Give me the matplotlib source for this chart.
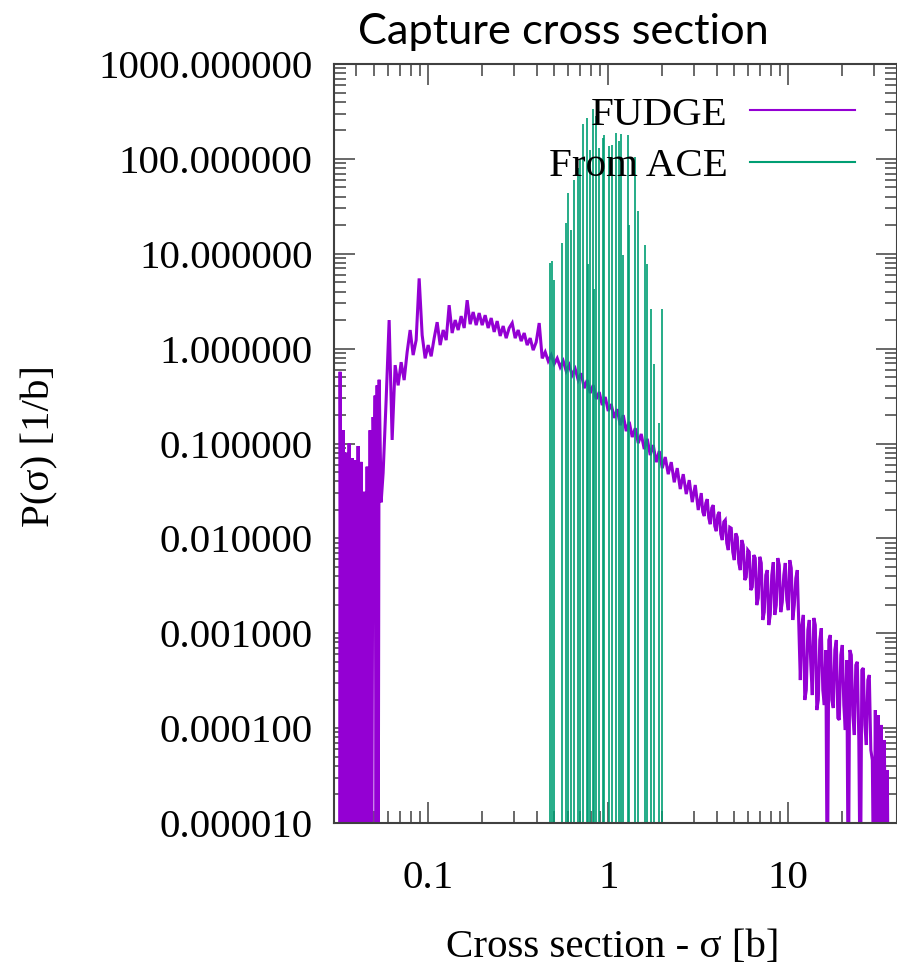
import matplotlib
matplotlib.use("Agg")
import numpy as np
import matplotlib.pyplot as plt
from matplotlib.ticker import LogLocator, NullFormatter
from matplotlib.lines import Line2D

# ---------------- data ----------------
# FUDGE histogram: sigma [b] and P(sigma) [1/b]; 1e-6 marks empty bins (below the plotted range)
fudge_sigma = [
    # low-sigma region (sparse, many empty bins)
    0.03223, 0.03244, 0.03307, 0.03371, 0.03435, 0.03502, 0.03570, 0.03639, 0.03709, 0.03781,
    0.03854, 0.03929, 0.04005, 0.04083, 0.04162, 0.04242, 0.04325, 0.04408, 0.04494, 0.04581,
    0.04670, 0.04760, 0.04853, 0.04947, 0.05012, 0.05076, 0.05141, 0.05207, 0.05275, 0.05343,
    0.05481,
    # main body
    0.05623, 0.05843, 0.06072, 0.06310, 0.06556, 0.06813, 0.07080, 0.07356, 0.07644, 0.07943,
    0.08254, 0.08577, 0.08913, 0.09261, 0.09624,
    0.1000, 0.1039, 0.1080, 0.1122, 0.1166, 0.1212, 0.1259, 0.1308, 0.1359, 0.1413,
    0.1468, 0.1525, 0.1585, 0.1647, 0.1711, 0.1778, 0.1848, 0.1920, 0.1995, 0.2073,
    0.2154, 0.2239, 0.2326, 0.2417, 0.2512, 0.2610, 0.2712, 0.2818, 0.2929, 0.3043,
    0.3162, 0.3286, 0.3415, 0.3548, 0.3687, 0.3831, 0.3981, 0.4137, 0.4299, 0.4467,
    0.4642, 0.4823, 0.5012, 0.5208, 0.5412, 0.5623, 0.5843, 0.6072, 0.6310, 0.6556,
    0.6813, 0.7080, 0.7356, 0.7644, 0.7943, 0.8254, 0.8577, 0.8913, 0.9261, 0.9624,
    1.000, 1.039, 1.080, 1.122, 1.166, 1.212, 1.259, 1.308, 1.359, 1.413,
    1.468, 1.525, 1.585, 1.647, 1.711, 1.778, 1.848, 1.920, 1.995, 2.073,
    2.154, 2.239, 2.326, 2.417, 2.512, 2.610, 2.712, 2.818, 2.929, 3.043,
    3.162,
    # noisier region up to the step near 11 b
    3.286, 3.350, 3.415, 3.481, 3.548, 3.617, 3.687, 3.758, 3.831, 3.905,
    3.981, 4.058, 4.137, 4.217, 4.299, 4.382, 4.467, 4.553, 4.642, 4.732,
    4.823, 4.917, 5.012, 5.109, 5.208, 5.309, 5.412, 5.517, 5.623, 5.732,
    5.843, 5.957, 6.072, 6.190, 6.310, 6.432, 6.556, 6.683, 6.813, 6.945,
    7.080, 7.217, 7.356, 7.499, 7.644, 7.792, 7.943, 8.097, 8.254, 8.414,
    8.577, 8.743, 8.913, 9.085, 9.261, 9.441, 9.624, 9.810, 10.00, 10.19,
    10.39, 10.59, 10.80, 11.01, 11.22,
    # tail
    11.66, 11.89, 12.12, 12.35, 12.59, 12.84, 13.08, 13.34, 13.59, 13.86,
    14.13, 14.40, 14.68, 14.96, 15.25, 15.55, 15.85, 16.16, 16.47, 16.79,
    17.11, 17.44, 17.78, 18.13, 18.48, 18.84, 19.20, 19.57, 19.95, 20.34,
    20.73, 21.13, 21.54, 21.96, 22.39, 22.82, 23.26, 23.71, 24.17, 24.64,
    25.12, 25.61, 26.10, 26.61, 27.12, 27.65, 28.18, 28.73, 29.29,
    29.85, 30.43, 31.01, 31.62, 32.23, 32.86, 33.50, 34.15, 34.81, 35.48, 35.94,
]
fudge_p = [
    1e-6, 0.57, 1e-6, 0.138, 1e-6, 0.080, 1e-6, 0.100, 1e-6, 0.070,
    1e-6, 0.067, 1e-6, 0.094, 1e-6, 0.064, 1e-6, 0.031, 1e-6, 0.057,
    1e-6, 0.138, 1e-6, 0.19, 0.025, 0.32, 1e-6, 0.41, 1e-6, 0.47,
    0.024,
    0.049, 0.287, 2.0, 0.109, 0.67, 0.41, 0.72, 0.466, 0.92, 1.57,
    0.855, 1.23, 5.5, 1.39, 0.79,
    1.09, 0.83, 1.29, 1.9, 1.09, 1.57, 1.23, 2.87, 1.46, 2.0,
    1.57, 2.2, 1.65, 3.24, 1.81, 2.43, 1.77, 2.37, 1.77, 2.25,
    1.65, 2.1, 1.5, 1.95, 1.36, 1.73, 1.29, 1.65, 1.86, 1.29,
    1.57, 1.2, 1.46, 1.09, 1.29, 0.964, 1.17, 1.86, 0.79, 0.92,
    0.74, 0.855, 0.69, 0.79, 0.64, 0.74, 0.58, 0.67, 0.526, 0.61,
    0.466, 0.55, 0.383, 0.466, 0.34, 0.412, 0.294, 0.348, 0.254, 0.309,
    0.22, 0.26, 0.186, 0.23, 0.156, 0.199, 0.135, 0.169, 0.117, 0.145,
    0.101, 0.126, 0.0873, 0.112, 0.0755, 0.0962, 0.0636, 0.0832, 0.055, 0.072,
    0.0475, 0.0636, 0.039, 0.055, 0.0331, 0.0475, 0.0293, 0.0411, 0.0241, 0.0365,
    0.0199,
    0.030, 0.019, 0.0172, 0.0235, 0.0259, 0.0164, 0.0141, 0.0209, 0.0224, 0.0135,
    0.0119, 0.0176, 0.019, 0.0111, 0.0096, 0.0149, 0.0156, 0.0089, 0.00753, 0.0131,
    0.0128, 0.00717, 0.0059, 0.0113, 0.0103, 0.0055, 0.00463, 0.0096, 0.0085, 0.00364,
    0.0039, 0.00753, 0.00717, 0.00285, 0.00307, 0.00667, 0.0062, 0.00198, 0.00235, 0.0064,
    0.0055, 0.00138, 0.00167, 0.0041, 0.00463, 0.00122, 0.00156, 0.0041, 0.0056, 0.00156,
    0.00198, 0.0062, 0.00523, 0.00167, 0.00213, 0.0041, 0.0055, 0.00224, 0.00175, 0.0059,
    0.00486, 0.00138, 0.00198, 0.0038, 0.00463,
    0.000321, 0.00122, 0.00156, 0.000198, 0.000252, 0.00108, 0.00138, 0.000462, 0.000223, 0.00145,
    0.00122, 0.000155, 0.000198, 0.000848, 0.00113, 0.000252, 0.000175, 0.000665, 1e-6, 0.000848,
    0.000957, 0.000198, 0.000163, 0.000665, 0.000848, 0.000128, 0.000122, 0.000589, 0.000751, 0.000175,
    0.0000955, 0.000522, 1e-6, 0.000665, 0.000589, 0.000137, 0.0000846, 0.000462, 0.0005, 0.000075,
    1e-6, 0.000409, 0.00043, 0.000108, 0.0000664, 0.000321, 0.000363, 0.0000588, 0.0000461,
    1e-6, 0.000155, 1e-6, 0.000137, 1e-6, 0.000108, 1e-6, 0.000075, 1e-6, 0.0000362, 1e-6,
]

# From ACE: sparse bins (sigma [b], P(sigma) [1/b])
ace_sigma = [0.4738, 0.4848, 0.5012, 0.5552, 0.5821, 0.5995, 0.6229, 0.6474, 0.6813, 0.6989,
             0.7263, 0.7586, 0.7743, 0.7943, 0.8254, 0.8360, 0.8577, 0.8913, 0.9321, 0.9502,
             1.008, 1.052, 1.108, 1.145, 1.181, 1.211, 1.292, 1.308, 1.413, 1.468,
             1.606, 1.647, 1.734, 1.801, 1.920, 1.995]
ace_p = [8.05, 8.36, 5.27, 12.9, 21.0, 43.5, 18.0, 59.7, 79.8, 99.3,
         232, 269, 7.76, 123, 334, 4.24, 282, 129, 167, 178,
         136, 139, 187, 153, 182, 9.67, 178, 20.0, 104, 28.1,
         12.3, 7.76, 2.61, 0.686, 0.163, 2.61]

series_labels = ["FUDGE", "From ACE"]
x_ticks = [0.1, 1, 10]
x_tick_labels = ["0.1", "1", "10"]
y_ticks = [1e-5, 1e-4, 1e-3, 1e-2, 1e-1, 1, 10, 100, 1000]
y_tick_labels = ["0.000010", "0.000100", "0.001000", "0.010000", "0.100000",
                 "1.000000", "10.000000", "100.000000", "1000.000000"]
x_range = (0.03, 40)
y_range = (1e-5, 1e3)

# ---------------- style ----------------
PURPLE = "#9400D3"
GREEN = "#009E73"
AXC = "#404040"
SERIF = "Liberation Serif"
FS = 29.5

fig = plt.figure(figsize=(8.97, 9.69), dpi=100)
ax = fig.add_axes([334 / 897, 146 / 969, 562.7 / 897, 759 / 969])
ax.set_xscale("log")
ax.set_yscale("log")
ax.set_xlim(*x_range)
ax.set_ylim(*y_range)

ax.plot(fudge_sigma, fudge_p, color=PURPLE, lw=2.2, solid_joinstyle="miter")
ax.vlines(ace_sigma, y_range[0], ace_p, colors=GREEN, lw=1.2)

ax.set_xticks(x_ticks, labels=x_tick_labels)
ax.set_yticks(y_ticks, labels=y_tick_labels)
ax.xaxis.set_minor_locator(LogLocator(base=10, subs=np.arange(2, 10), numticks=50))
ax.yaxis.set_minor_locator(LogLocator(base=10, subs=np.arange(2, 10), numticks=50))
ax.xaxis.set_minor_formatter(NullFormatter())
ax.yaxis.set_minor_formatter(NullFormatter())

ax.tick_params(which="both", direction="in", top=True, right=True, color=AXC, width=1.1)
ax.tick_params(which="major", length=15)
ax.tick_params(which="minor", length=8.5)
ax.tick_params(axis="y", which="major", pad=15.5)
ax.tick_params(axis="x", which="major", pad=27)
for lab in ax.get_xticklabels() + ax.get_yticklabels():
    lab.set_fontfamily(SERIF)
    lab.set_fontsize(FS)
for sp in ax.spines.values():
    sp.set_color(AXC)
    sp.set_linewidth(1.5)

ax.set_xlabel("Cross section - σ [b]", fontfamily=SERIF, fontsize=FS, va="center")
ax.xaxis.set_label_coords(0.4958, -0.164)
ax.set_ylabel("P(σ) [1/b]", fontfamily=SERIF, fontsize=FS, va="center")
ax.yaxis.set_label_coords(-0.5225, 0.4967)

ax.set_title("Capture cross section", x=0.407, y=1.0265, pad=0, ha="center",
             va="baseline", fontfamily="Lato", fontsize=31.2)

handles = [Line2D([], [], color=PURPLE, lw=1.5), Line2D([], [], color=GREEN, lw=1.5)]
ax.legend(handles, series_labels, loc="upper right", bbox_to_anchor=(0.9259, 0.958),
          markerfirst=False, frameon=False, borderpad=0, borderaxespad=0,
          handlelength=2.56, handletextpad=0.55, labelspacing=0.34,
          prop={"family": SERIF, "size": FS})

fig.savefig("out.png", dpi=100)
